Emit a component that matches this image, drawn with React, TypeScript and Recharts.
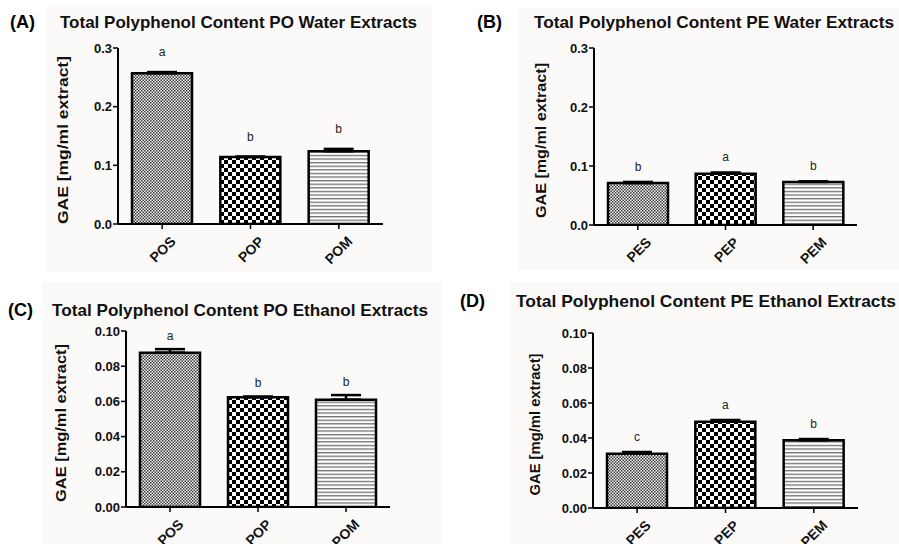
import { BarChart, Bar, XAxis, YAxis, ErrorBar, Cell, LabelList } from "recharts"

// categories
const poCategories = ["POS", "POP", "POM"]
const peCategories = ["PES", "PEP", "PEM"]

// (A) PO water extracts
const poWaterMeans = [0.257, 0.114, 0.124]
const poWaterSd = [0.002, 0.001, 0.004]
const poWaterLetters = ["a", "b", "b"]

// (B) PE water extracts
const peWaterMeans = [0.071, 0.087, 0.073]
const peWaterSd = [0.002, 0.002, 0.001]
const peWaterLetters = ["b", "a", "b"]

// (C) PO ethanol extracts
const poEthanolMeans = [0.0877, 0.0623, 0.061]
const poEthanolSd = [0.002, 0.0005, 0.0026]
const poEthanolLetters = ["a", "b", "b"]

// (D) PE ethanol extracts
const peEthanolMeans = [0.031, 0.0493, 0.0387]
const peEthanolSd = [0.001, 0.001, 0.0007]
const peEthanolLetters = ["c", "a", "b"]

const waterTicks = [0, 0.1, 0.2, 0.3]
const ethanolTicks = [0, 0.02, 0.04, 0.06, 0.08, 0.1]

const yLabel = "GAE [mg/ml extract]"
const FONT = "'Liberation Sans', Arial, Helvetica, sans-serif"
const patternNames = ["fine", "coarse", "lines"]
const X_AXIS_H = 20

type PanelProps = {
  id: string
  tag: string
  title: string
  categories: string[]
  means: number[]
  sds: number[]
  letters: string[]
  ticks: number[]
  digits: number
  // layout
  left: number
  top: number
  width: number
  height: number
  axisX: number
  plotTop: number
  plotBottom: number
  plotRight: number
  labelX: number
  labelLen: number
  letterGap: number
  tagX: number
  titleX: number
  titleLen: number
  titleY: number
  bg: { x: number; y: number; w: number; h: number }
}

function Patterns({ id }: { id: string }) {
  return (
    <defs>
      <pattern id={`fine-${id}`} width={3} height={3} patternUnits="userSpaceOnUse">
        <rect width={3} height={3} fill="#f4f4f4" />
        <rect x={0} y={0} width={1.5} height={1.5} fill="#3a3a3a" />
        <rect x={1.5} y={1.5} width={1.5} height={1.5} fill="#3a3a3a" />
      </pattern>
      <pattern id={`coarse-${id}`} width={8} height={8} patternUnits="userSpaceOnUse">
        <rect width={8} height={8} fill="#ffffff" />
        <rect x={0} y={0} width={4} height={4} fill="#000000" />
        <rect x={4} y={4} width={4} height={4} fill="#000000" />
      </pattern>
      <pattern id={`lines-${id}`} width={8} height={3.6} patternUnits="userSpaceOnUse">
        <rect width={8} height={3.6} fill="#ffffff" />
        <rect x={0} y={0} width={8} height={1.3} fill="#707070" />
      </pattern>
    </defs>
  )
}

function Panel(p: PanelProps) {
  const data = p.categories.map((name, i) => ({
    name,
    mean: p.means[i],
    err: [0, p.sds[i]],
    letter: p.letters[i],
  }))

  const RotTick = (t: any) => {
    const ax = t.x + 7
    const ay = t.y + 4
    return (
      <text
        x={ax}
        y={ay}
        transform={`rotate(-45 ${ax} ${ay})`}
        textAnchor="end"
        dominantBaseline="hanging"
        fontFamily={FONT}
        fontWeight="bold"
        fontSize={14}
        fill="#111"
      >
        {t.payload.value}
      </text>
    )
  }

  const YLab = (l: any) => {
    const vb = l.viewBox
    const cx = vb.x + (p.labelX - p.left)
    const cy = vb.y + vb.height / 2 + 4
    return (
      <text
        x={cx}
        y={cy}
        transform={`rotate(-90 ${cx} ${cy})`}
        textAnchor="middle"
        dominantBaseline="middle"
        fontFamily={FONT}
        fontWeight="bold"
        fontSize={15}
        textLength={p.labelLen}
        lengthAdjust="spacingAndGlyphs"
        fill="#111"
      >
        {yLabel}
      </text>
    )
  }

  const Letter = (l: any) => {
    const i = l.index ?? 0
    const errPx = (p.sds[i] * l.height) / p.means[i]
    return (
      <text
        x={l.x + l.width / 2}
        y={l.y - errPx - p.letterGap}
        textAnchor="middle"
        fontFamily={FONT}
        fontSize={12}
        fill="#222222"
        stroke="none"
      >
        {l.value}
      </text>
    )
  }

  return (
    <>
      <div
        style={{
          position: "absolute",
          left: p.bg.x,
          top: p.bg.y,
          width: p.bg.w,
          height: p.bg.h,
          background: "#fcfaf9",
        }}
      />
      <svg
        style={{ position: "absolute", left: 0, top: 0, overflow: "visible" }}
        width={1}
        height={1}
      >
        <text
          x={p.tagX}
          y={p.titleY}
          fontFamily={FONT}
          fontWeight="bold"
          fontSize={18}
          fill="#000"
        >
          {p.tag}
        </text>
        <text
          x={p.titleX}
          y={p.titleY}
          fontFamily={FONT}
          fontWeight="bold"
          fontSize={16.5}
          textLength={p.titleLen}
          lengthAdjust="spacingAndGlyphs"
          fill="#111"
        >
          {p.title}
        </text>
      </svg>
      <div style={{ position: "absolute", left: p.left, top: p.top }}>
        <BarChart
          width={p.width}
          height={p.height}
          data={data}
          margin={{
            top: p.plotTop - p.top,
            bottom: p.top + p.height - p.plotBottom - X_AXIS_H,
            left: 0,
            right: p.left + p.width - p.plotRight,
          }}
          style={{ overflow: "visible" }}
        >
          <Patterns id={p.id} />
          <XAxis
            dataKey="name"
            height={X_AXIS_H}
            axisLine={{ stroke: "#000", strokeWidth: 2 }}
            tickLine={{ stroke: "#000", strokeWidth: 1.5 }}
            tickSize={5}
            tick={<RotTick />}
            interval={0}
          />
          <YAxis
            width={p.axisX - p.left}
            domain={[p.ticks[0], p.ticks[p.ticks.length - 1]]}
            ticks={p.ticks}
            allowDataOverflow
            axisLine={{ stroke: "#000", strokeWidth: 2 }}
            tickLine={{ stroke: "#000", strokeWidth: 1.5 }}
            tickSize={5}
            tickMargin={1}
            tickFormatter={(v: number) => v.toFixed(p.digits)}
            tick={{ fontFamily: FONT, fontWeight: "bold", fontSize: 13, fill: "#111" }}
            label={YLab}
          />
          <Bar
            dataKey="mean"
            barSize={60}
            stroke="#000"
            strokeWidth={2.5}
            isAnimationActive={false}
          >
            {data.map((d, i) => (
              <Cell key={d.name} fill={`url(#${patternNames[i]}-${p.id})`} />
            ))}
            <ErrorBar
              dataKey="err"
              width={15}
              stroke="#000"
              strokeWidth={2.5}
              direction="y"
              isAnimationActive={false}
            />
            <LabelList dataKey="letter" content={Letter} />
          </Bar>
        </BarChart>
      </div>
    </>
  )
}

export default function App() {
  return (
    <div
      style={{
        position: "absolute",
        left: 0,
        top: 0,
        width: 899,
        height: 544,
        background: "#ffffff",
        overflow: "hidden",
      }}
    >
      <Panel
        id="A"
        tag="(A)"
        title="Total Polyphenol Content PO Water Extracts"
        categories={poCategories}
        means={poWaterMeans}
        sds={poWaterSd}
        letters={poWaterLetters}
        ticks={waterTicks}
        digits={1}
        left={0}
        top={0}
        width={450}
        height={272}
        axisX={118}
        plotTop={48}
        plotBottom={224}
        plotRight={383}
        labelX={64}
        labelLen={168}
        letterGap={16}
        tagX={10}
        titleX={60}
        titleLen={357}
        titleY={28}
        bg={{ x: 46, y: 7, w: 386, h: 265 }}
      />
      <Panel
        id="B"
        tag="(B)"
        title="Total Polyphenol Content PE Water Extracts"
        categories={peCategories}
        means={peWaterMeans}
        sds={peWaterSd}
        letters={peWaterLetters}
        ticks={waterTicks}
        digits={1}
        left={450}
        top={0}
        width={449}
        height={272}
        axisX={594}
        plotTop={48}
        plotBottom={225}
        plotRight={857}
        labelX={542}
        labelLen={155}
        letterGap={11}
        tagX={477}
        titleX={534}
        titleLen={360}
        titleY={28}
        bg={{ x: 518, y: 8, w: 381, h: 262 }}
      />
      <Panel
        id="C"
        tag="(C)"
        title="Total Polyphenol Content PO Ethanol Extracts"
        categories={poCategories}
        means={poEthanolMeans}
        sds={poEthanolSd}
        letters={poEthanolLetters}
        ticks={ethanolTicks}
        digits={2}
        left={0}
        top={272}
        width={450}
        height={272}
        axisX={126}
        plotTop={331}
        plotBottom={507}
        plotRight={390}
        labelX={62}
        labelLen={158}
        letterGap={9}
        tagX={8}
        titleX={52}
        titleLen={376}
        titleY={316}
        bg={{ x: 42, y: 282, w: 400, h: 262 }}
      />
      <Panel
        id="D"
        tag="(D)"
        title="Total Polyphenol Content PE Ethanol Extracts"
        categories={peCategories}
        means={peEthanolMeans}
        sds={peEthanolSd}
        letters={peEthanolLetters}
        ticks={ethanolTicks}
        digits={2}
        left={450}
        top={272}
        width={449}
        height={272}
        axisX={593}
        plotTop={333}
        plotBottom={508}
        plotRight={858}
        labelX={536}
        labelLen={142}
        letterGap={11}
        tagX={460}
        titleX={516}
        titleLen={380}
        titleY={307}
        bg={{ x: 510, y: 282, w: 389, h: 262 }}
      />
    </div>
  )
}
